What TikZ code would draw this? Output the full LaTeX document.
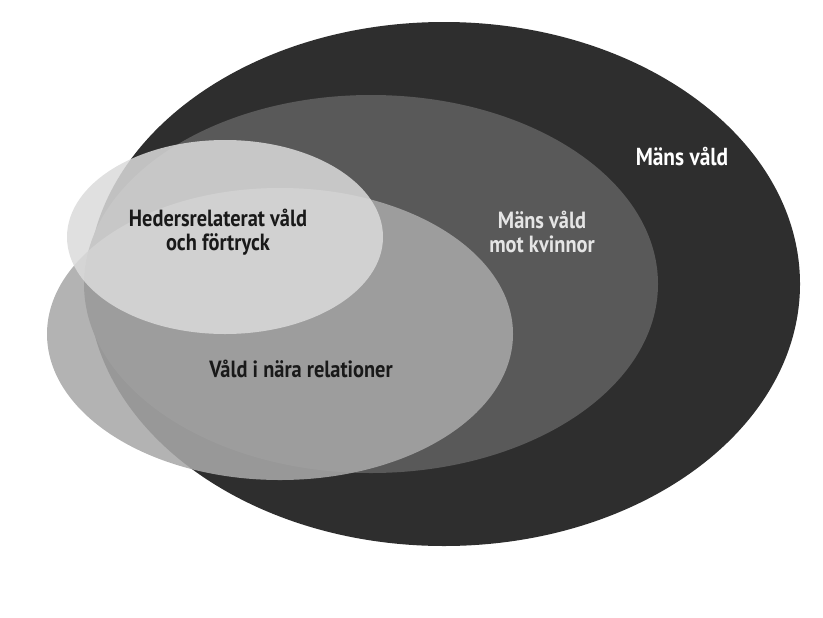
\documentclass[tikz,border=0pt]{standalone}
\usepackage{fontspec}
\setmainfont{PT Sans}
\newfontfamily\narrowfont[FakeStretch=0.87]{PT Sans}
\usepackage{tikz}
\usetikzlibrary{positioning}

\definecolor{outerdark}{gray}{0.18}
\definecolor{middark}{gray}{0.35}
\definecolor{nearfill}{gray}{0.66}
\definecolor{honourfill}{gray}{0.86}

\begin{document}
\begin{tikzpicture}[
  x=0.03cm, y=-0.03cm,
  areatext/.style={font=\narrowfont\bfseries\fontsize{20}{20}\selectfont, align=center, inner sep=0pt},
  darktext/.style={areatext, text=black!90},
  lighttext/.style={areatext, text=white!90!black}
]
\useasboundingbox (0,0) rectangle (823,617);

% Nested areas
\fill[outerdark] (444,284) ellipse [x radius=356, y radius=262];
\fill[middark] (371,284) ellipse [x radius=287, y radius=189];
\fill[nearfill, opacity=0.87] (280,334) ellipse [x radius=233, y radius=146];
\fill[honourfill, opacity=0.85] (225,237) ellipse [x radius=158, y radius=97];

% Labels
\node[lighttext, text=white, font=\narrowfont\bfseries\fontsize{21}{21}\selectfont] (mens) at (682,157) {Mäns våld};
\node[lighttext] (womenvio) at (542,232) {Mäns våld\\mot kvinnor};
\node[darktext] (honour) at (218,232) {Hedersrelaterat våld\\och förtryck};
\node[darktext] (close) at (301,369) {Våld i nära relationer};

\end{tikzpicture}
\end{document}
